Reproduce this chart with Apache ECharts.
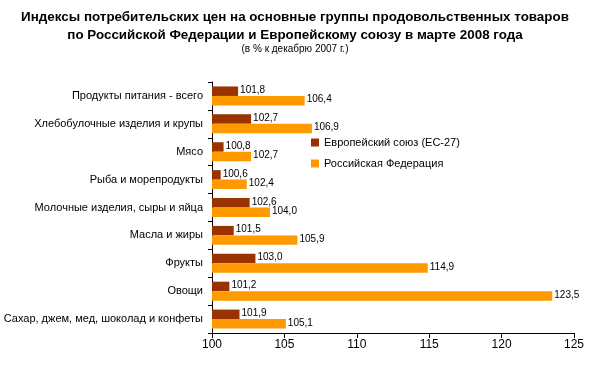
<!DOCTYPE html>
<html><head><meta charset="utf-8">
<script src="https://cdn.jsdelivr.net/npm/echarts@6/dist/echarts.min.js"></script>
<style>html,body{margin:0;padding:0;background:#fff}#c{width:590px;height:365px}</style>
</head><body><div id="c"></div>
<script>
var categories = ["Продукты питания - всего","Хлебобулочные изделия и крупы","Мясо","Рыба и морепродукты","Молочные изделия, сыры и яйца","Масла и жиры","Фрукты","Овощи","Сахар, джем, мед, шоколад и конфеты"];
var euValues = [101.8,102.7,100.8,100.6,102.6,101.5,103.0,101.2,101.9];
var rfValues = [106.4,106.9,102.7,102.4,104.0,105.9,114.9,123.5,105.1];
var seriesNames = ["Европейский союз (ЕС-27)","Российская Федерация"];
var font = "Liberation Sans, Arial, sans-serif";
function fmt(p){return p.value.toFixed(1).replace('.',',');}
var chart = echarts.init(document.getElementById('c'));
chart.setOption({
  animation:false,
  textStyle:{fontFamily:font,color:'#000'},
  title:[{
    text:'Индексы потребительских цен на основные группы продовольственных товаров\nпо Российской Федерации и Европейскому союзу в марте 2008 года',
    left:'center',top:3,
    textStyle:{fontFamily:font,fontSize:13.4,fontWeight:'bold',color:'#000',lineHeight:18}
  },{
    text:'(в % к декабрю 2007 г.)',
    left:'center',top:39,
    textStyle:{fontFamily:font,fontSize:10,fontWeight:'normal',color:'#000'}
  }],
  legend:{
    orient:'vertical',left:306,top:132,itemWidth:8,itemHeight:8,itemGap:10,
    icon:'rect',
    textStyle:{fontFamily:font,fontSize:11,color:'#000'},
    data:seriesNames
  },
  grid:{left:212,right:16,top:82,bottom:32,containLabel:false},
  xAxis:{
    type:'value',min:100,max:125,interval:5,
    axisLine:{show:true,lineStyle:{color:'#000'}},
    axisTick:{show:true,length:5,lineStyle:{color:'#000'}},
    splitLine:{show:false},
    axisLabel:{fontFamily:font,fontSize:12,color:'#000',margin:6}
  },
  yAxis:{
    type:'category',data:categories,inverse:true,
    axisLine:{show:true,lineStyle:{color:'#000'}},
    axisTick:{show:true,length:4,lineStyle:{color:'#000'}},
    axisLabel:{fontFamily:font,fontSize:11,color:'#000',margin:9}
  },
  series:[{
    name:seriesNames[0],type:'bar',data:euValues,
    itemStyle:{color:'#993300'},barGap:'0%',barCategoryGap:'32%',
    label:{show:true,position:'right',distance:2,offset:[0,-1],fontFamily:font,fontSize:10,color:'#000',formatter:fmt}
  },{
    name:seriesNames[1],type:'bar',data:rfValues,
    itemStyle:{color:'#FF9900'},barGap:'0%',barCategoryGap:'32%',
    label:{show:true,position:'right',distance:2,offset:[0,-1],fontFamily:font,fontSize:10,color:'#000',formatter:fmt}
  }]
});
</script></body></html>
